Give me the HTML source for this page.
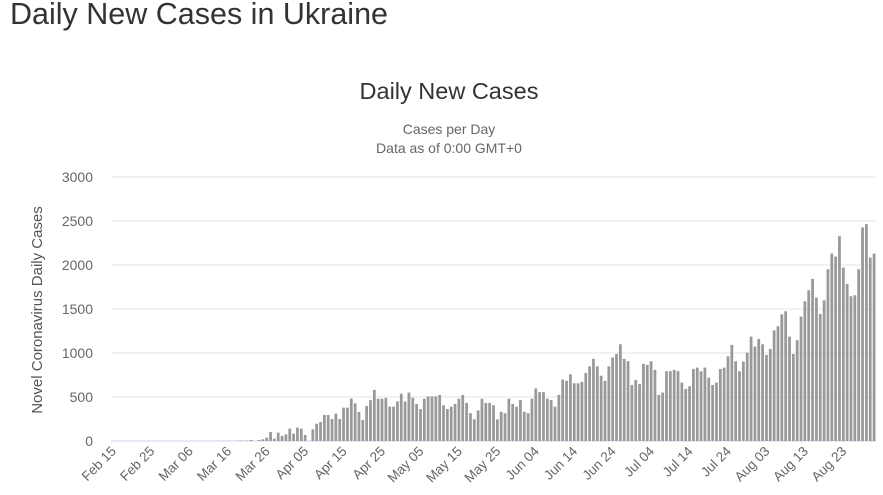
<!DOCTYPE html>
<html><head><meta charset="utf-8">
<style>
html,body{margin:0;padding:0;background:#fff;width:883px;height:495px;overflow:hidden;font-family:"Liberation Sans",sans-serif;}
h1{position:absolute;left:10px;top:-3px;margin:0;font-weight:normal;font-size:30.5px;color:#333;}
svg{position:absolute;left:0;top:0;}
</style></head><body>
<h1>Daily New Cases in Ukraine</h1>
<svg id="chart" width="883" height="495">
<text x="449" y="99" text-anchor="middle" font-size="23.5" fill="#333">Daily New Cases</text>
<text x="449" y="134" text-anchor="middle" font-size="14" fill="#666">Cases per Day</text>
<text x="449" y="153" text-anchor="middle" font-size="14" fill="#666">Data as of 0:00 GMT+0</text>
<text transform="translate(42,310) rotate(-90)" text-anchor="middle" font-size="15" fill="#555">Novel Coronavirus Daily Cases</text>
<g id="grid"></g><g id="bars"></g><g id="xlabels"></g>
</svg>
<script>
const yTicks = [0, 500, 1000, 1500, 2000, 2500, 3000];
const startDate = "2020-02-15";
const leading = [0,0,0,0,0,0,0,0,0,0,0,0,0,0,0,0,0,1,0,0,0,0,0,0,0,0,0,1,0,2,3,1,2,5,3,6];
const cases = [11,0,11,19,38,102,27,95,57,76,140,83,152,140,68,0,133,197,216,296,296,250,311,250,379,379,481,428,330,239,398,
464,581,480,480,491,390,390,449,538,449,550,491,421,363,480,507,507,507,523,406,363,390,421,480,523,433,316,246,347,480,433,433,
406,246,332,316,480,421,390,465,332,316,480,598,555,555,480,465,390,523,699,684,758,656,656,672,773,848,934,848,742,684,848,949,
990,1100,
933,906,637,694,648,876,865,906,808,524,550,793,793,808,793,664,592,622,819,834,793,834,720,637,664,819,834,963,1092,906,793,
902,1004,1186,1073,1160,1099,978,1046,1258,1304,1440,1474,1186,989,1145,1414,1588,1713,1842,1630,1444,1599,1952,2130,2096,2327,1971,1785,1645,1656,1952,2426,2464,2085,2130];
const values = leading.concat(cases);
const NS="http://www.w3.org/2000/svg";
const X0=111, X1=876, Y0=441, Y1=177, YMAX=3000;
const n=values.length, step=(X1-X0)/n;
function xScale(i){return X0+(i+0.5)*step;}
function yScale(v){return Y0-(v/YMAX)*(Y0-Y1);}
const months=["Jan","Feb","Mar","Apr","May","Jun","Jul","Aug","Sep","Oct","Nov","Dec"];
function label(i){const d=new Date(startDate+"T00:00:00Z");d.setUTCDate(d.getUTCDate()+i);return months[d.getUTCMonth()]+" "+String(d.getUTCDate()).padStart(2,"0");}
const grid=document.getElementById("grid");
yTicks.forEach(t=>{
  const l=document.createElementNS(NS,"line");
  
  
  l.setAttribute("x1",X0);l.setAttribute("x2",X1);l.setAttribute("y1",yScale(t));l.setAttribute("y2",yScale(t));
  l.setAttribute("stroke",t===0?"#ccd6eb":"#e6e6e6");l.setAttribute("stroke-width","1");
  grid.appendChild(l);
  const tx=document.createElementNS(NS,"text");
  
  
  tx.setAttribute("x",93);tx.setAttribute("y",yScale(t)+5);tx.setAttribute("text-anchor","end");
  tx.setAttribute("font-size","14");tx.setAttribute("fill","#666");tx.textContent=t;
  grid.appendChild(tx);
});
const bars=document.getElementById("bars");
values.forEach((v,i)=>{
  if(v<=0)return;
  const r=document.createElementNS(NS,"rect");
  
  
  const w=step*0.72;
  r.setAttribute("x",xScale(i)-w/2);r.setAttribute("width",w);
  r.setAttribute("y",yScale(v));r.setAttribute("height",Y0-yScale(v));
  r.setAttribute("fill","#999");
  bars.appendChild(r);
});
const xl=document.getElementById("xlabels");
for(let i=0;i<n;i+=10){
  const tx=document.createElementNS(NS,"text");
  
  
  const x=xScale(i)+4, y=452;
  tx.setAttribute("transform","translate("+x+","+y+") rotate(-45)");
  tx.setAttribute("text-anchor","end");tx.setAttribute("font-size","13.5");tx.setAttribute("fill","#666");
  tx.textContent=label(i);
  xl.appendChild(tx);
}
</script>
</body></html>
